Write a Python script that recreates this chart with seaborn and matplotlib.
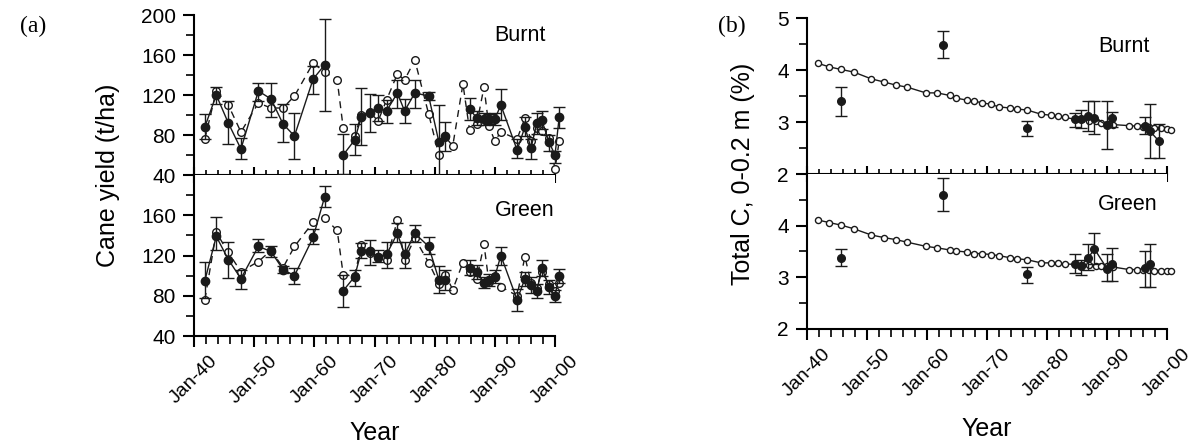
import numpy as np
import pandas as pd
import matplotlib
matplotlib.use("Agg")
import matplotlib.pyplot as plt
from matplotlib.ticker import MultipleLocator, FuncFormatter
import seaborn as sns

nan = np.nan

# harvest dates (decimal years), shared by the simulated series
years = [1941.8, 1943.7, 1945.7, 1947.8, 1950.7, 1952.8, 1954.8, 1956.7, 1959.8, 1961.7,
         1963.8, 1964.8, 1966.7, 1967.8, 1969.2, 1970.6, 1972.0, 1973.8, 1975.0, 1976.7,
         1979.0, 1980.7, 1981.8, 1983.0, 1984.7, 1985.8, 1987.0, 1988.2, 1989.0, 1990.0,
         1991.0, 1993.7, 1995.0, 1996.0, 1997.0, 1997.8, 1999.0, 2000.0, 2000.7]

# cane yield (t/ha), burnt
burnt_obs = [88, 120, 92, 66, 124, 116, 91, 79, 136, 150, nan, 60, 75, 98, 102, 107, 104, 122, 104, 122,
             119, 73, 79, nan, nan, 106, 97, 96, 96, 96, 110, 65, 88, 67, 92, 95, 73, 60, 98]
burnt_lo = [76, 111, 71, 56, 114, 98, 73, 56, 121, 104, nan, 41, 60, 70, 83, 94, 92, 107, 92, 107,
            115, 39, 64, nan, nan, 95, 90, 90, 91, 90, 95, 57, 79, 56, 81, 86, 64, 52, 87]
burnt_hi = [101, 128, 114, 77, 132, 132, 111, 102, 149, 196, nan, 81, 91, 127, 121, 120, 115, 135, 116, 135,
            123, 110, 93, nan, nan, 117, 104, 102, 101, 102, 126, 76, 98, 76, 102, 104, 80, 64, 108]
burnt_sim = [76, 124, 110, 83, 112, 107, 107, 119, 152, 143, 135, 87, 79, 100, 103, 94, 115, 141, 135, 155,
             101, 60, 78, 69, 131, 85, 91, 128, 89, 74, 83, 76, 97, 74, 87, 84, 77, 46, 74]

# cane yield (t/ha), green
green_obs = [95, 139, 116, 97, 129, 124, 106, 100, 138, 178, nan, 85, 99, 124, 124, 119, 121, 142, 121, 142,
             129, 96, 96, nan, nan, 108, 104, 93, 96, 99, 120, 76, 97, 91, 85, 108, 89, 80, 100]
green_lo = [78, 125, 98, 87, 123, 119, 103, 92, 131, 168, nan, 69, 90, 118, 111, 114, 108, 133, 108, 133,
            121, 83, 86, nan, nan, 101, 97, 88, 90, 93, 111, 65, 90, 83, 78, 100, 82, 74, 93]
green_hi = [114, 158, 133, 106, 136, 129, 110, 108, 146, 189, nan, 101, 106, 132, 135, 125, 133, 152, 133, 150,
            138, 110, 106, nan, nan, 116, 111, 99, 102, 106, 128, 87, 104, 99, 92, 116, 96, 86, 107]
green_sim = [76, 143, 123, 104, 114, 125, 108, 129, 153, 157, 145, 101, 100, 130, 122, 118, 116, 155, 116, 137,
             113, 92, 101, 86, 113, 104, 97, 131, 94, 100, 89, 80, 119, 93, 88, 104, 92, 85, 93]

# total C 0-0.2 m (%), simulated
soil_burnt_sim = [4.13, 4.06, 4.01, 3.96, 3.83, 3.77, 3.71, 3.67, 3.56, 3.56, 3.51, 3.46, 3.42, 3.40, 3.37,
                  3.34, 3.29, 3.27, 3.25, 3.23, 3.15, 3.13, 3.12, 3.09, 3.05, 3.05, 3.02, 3.01, 2.99, 2.97,
                  2.95, 2.93, 2.92, 2.91, 2.90, 2.88, 2.88, 2.87, 2.85]
soil_green_sim = [4.11, 4.06, 4.01, 3.94, 3.82, 3.77, 3.73, 3.68, 3.60, 3.57, 3.53, 3.51, 3.49, 3.46, 3.46,
                  3.44, 3.42, 3.38, 3.36, 3.34, 3.28, 3.28, 3.27, 3.26, 3.25, 3.24, 3.23, 3.22, 3.21, 3.21,
                  3.20, 3.15, 3.15, 3.15, 3.14, 3.13, 3.13, 3.13, 3.13]

# total C measured (sampling dates, line groups)
soil_years = [1945.6, 1962.6, 1976.6, 1984.6, 1985.6, 1986.9, 1987.9, 1990.0, 1990.9, 1996.3, 1997.1, 1998.6]
soil_group = [0, 1, 2, 3, 3, 3, 3, 3, 3, 4, 4, 4]
soil_burnt = [3.40, 4.49, 2.88, 3.05, 3.06, 3.12, 3.08, 2.94, 3.08, 2.92, 2.83, 2.64]
soil_burnt_lo = [3.12, 4.24, 2.73, 2.90, 2.88, 2.83, 2.77, 2.48, 2.91, 2.76, 2.30, 2.30]
soil_burnt_hi = [3.67, 4.75, 3.01, 3.17, 3.23, 3.40, 3.40, 3.40, 3.20, 3.09, 3.35, 2.96]
soil_green = [3.38, 4.59, 3.06, 3.25, 3.22, 3.38, 3.55, 3.17, 3.25, 3.19, 3.25, nan]
soil_green_lo = [3.22, 4.28, 2.89, 3.08, 3.05, 3.14, 3.25, 2.92, 2.92, 2.82, 2.82, nan]
soil_green_hi = [3.55, 4.93, 3.20, 3.46, 3.33, 3.65, 3.86, 3.46, 3.57, 3.50, 3.65, nan]

W, H = 1197, 444


def box(x0, x1, y0, y1):
    # pixel box -> figure fraction
    return [x0 / W, 1 - y1 / H, (x1 - x0) / W, (y1 - y0) / H]


def plot_obs(ax, x, y, lo, hi, groups, ms):
    df = pd.DataFrame({'x': x, 'y': y, 'lo': lo, 'hi': hi, 'g': groups}).dropna()
    ax.errorbar(df.x, df.y, yerr=[df.y - df.lo, df.hi - df.y], fmt='none', ecolor='k',
                elinewidth=1, capsize=4.5, capthick=1, zorder=3, clip_on=False)
    sns.lineplot(data=df, x='x', y='y', units='g', estimator=None, color='k', lw=1,
                 marker='o', markersize=ms, markerfacecolor='k', markeredgecolor='k',
                 markeredgewidth=1, ax=ax, zorder=4, legend=False, clip_on=False)


def plot_sim(ax, y, ms, ls):
    sns.lineplot(x=years, y=y, color='k', lw=1, linestyle=ls, marker='o', markersize=ms,
                 markerfacecolor='white', markeredgecolor='k', markeredgewidth=1,
                 ax=ax, zorder=2, legend=False, clip_on=False)


def style(ax, top, ymaj, ymin):
    ax.spines['top'].set_visible(False)
    ax.spines['right'].set_visible(False)
    for s in ['left', 'bottom']:
        ax.spines[s].set_linewidth(1.5)
    ax.set_xlim(1940, 2000)
    ax.xaxis.set_major_locator(MultipleLocator(10))
    ax.xaxis.set_minor_locator(MultipleLocator(2))
    ax.xaxis.set_major_formatter(FuncFormatter(lambda v, p: "Jan-%02d" % (int(round(v)) % 100)))
    ax.set_yticks(ymaj)
    ax.set_yticks(ymin, minor=True)
    if top:
        ax.tick_params(axis='x', which='major', direction='inout', length=12, width=1.5, labelbottom=False)
        ax.tick_params(axis='x', which='minor', direction='inout', length=7, width=1.2)
    else:
        ax.tick_params(axis='x', which='major', direction='out', length=8, width=1.5,
                       labelsize=14, labelrotation=45, pad=4)
        ax.tick_params(axis='x', which='minor', direction='out', length=5.5, width=1.2)
    ax.tick_params(axis='y', which='major', direction='out', length=8, width=1.5, labelsize=15, pad=5)
    ax.tick_params(axis='y', which='minor', direction='out', length=5.5, width=1.2)
    ax.set_xlabel('')
    ax.set_ylabel('')


def main():
    sns.set_theme(style="ticks", rc={'axes.edgecolor': 'black', 'xtick.color': 'black',
                                     'ytick.color': 'black', 'text.color': 'black',
                                     'axes.labelcolor': 'black'})
    plt.rcParams['font.family'] = ['Liberation Sans', 'DejaVu Sans']

    fig = plt.figure(figsize=(W / 100, H / 100), dpi=100)

    # (a) cane yield
    ax_a1 = fig.add_axes(box(194, 555, 15, 175))
    ax_a2 = fig.add_axes(box(194, 555, 175, 336))
    yield_groups_b = np.cumsum(np.isnan(burnt_obs))
    yield_groups_g = np.cumsum(np.isnan(green_obs))
    for ax, obs, lo, hi, sim, grp in [(ax_a1, burnt_obs, burnt_lo, burnt_hi, burnt_sim, yield_groups_b),
                                      (ax_a2, green_obs, green_lo, green_hi, green_sim, yield_groups_g)]:
        plot_sim(ax, sim, 5.5, (0, (5, 4)))
        plot_obs(ax, years, obs, lo, hi, grp, 6)
        ax.set_ylim(40, 200)
    style(ax_a1, True, [40, 80, 120, 160, 200], [60, 100, 140, 180])
    style(ax_a2, False, [40, 80, 120, 160], [60, 100, 140, 180])
    ax_a1.text(0.833, 0.875, 'Burnt', transform=ax_a1.transAxes, fontsize=15.5, va='center')
    ax_a2.text(0.833, 0.78, 'Green', transform=ax_a2.transAxes, fontsize=15.5, va='center')
    ax_a2.set_ylabel('Cane yield (t/ha)', fontsize=18)
    ax_a2.yaxis.set_label_coords(-0.205, 1.0)
    ax_a2.set_xlabel('Year', fontsize=18)
    ax_a2.xaxis.set_label_coords(0.5, -0.53)

    # (b) total soil C
    ax_b1 = fig.add_axes(box(807, 1167, 18, 174))
    ax_b2 = fig.add_axes(box(807, 1167, 174, 329))
    for ax, obs, lo, hi, sim in [(ax_b1, soil_burnt, soil_burnt_lo, soil_burnt_hi, soil_burnt_sim),
                                 (ax_b2, soil_green, soil_green_lo, soil_green_hi, soil_green_sim)]:
        plot_sim(ax, sim, 4.4, '-')
        plot_obs(ax, soil_years, obs, lo, hi, soil_group, 5.5)
        ax.set_ylim(2, 5)
    style(ax_b1, True, [2, 3, 4, 5], [2.5, 3.5, 4.5])
    style(ax_b2, False, [2, 3, 4], [2.5, 3.5, 4.5])
    ax_b1.text(0.808, 0.817, 'Burnt', transform=ax_b1.transAxes, fontsize=15.5, va='center')
    ax_b2.text(0.808, 0.80, 'Green', transform=ax_b2.transAxes, fontsize=15.5, va='center')
    ax_b2.set_ylabel('Total C, 0-0.2 m (%)', fontsize=18)
    ax_b2.yaxis.set_label_coords(-0.145, 1.0)
    ax_b2.set_xlabel('Year', fontsize=18)
    ax_b2.xaxis.set_label_coords(0.5, -0.57)

    fig.text(20 / W, 1 - 26 / H, '(a)', family=['Liberation Serif', 'DejaVu Serif'], fontsize=17, va='center')
    fig.text(718 / W, 1 - 26 / H, '(b)', family=['Liberation Serif', 'DejaVu Serif'], fontsize=17, va='center')

    fig.savefig('out.png', dpi=100)
    plt.close(fig)


if __name__ == "__main__":
    main()
